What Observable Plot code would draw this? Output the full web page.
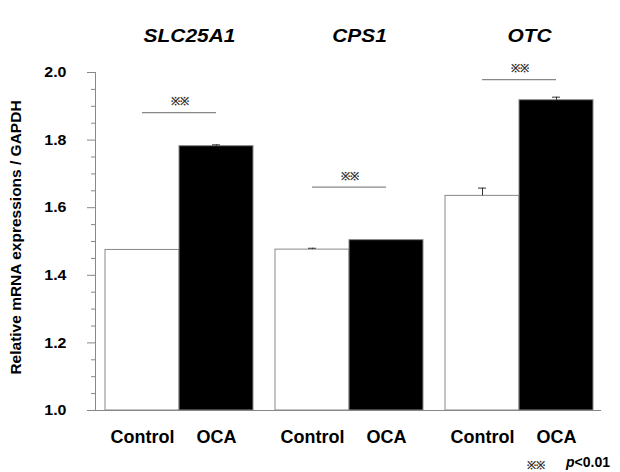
<!DOCTYPE html>
<html>
<head>
<meta charset="utf-8">
<script src="https://cdn.jsdelivr.net/npm/d3@7"></script>
<script src="https://cdn.jsdelivr.net/npm/@observablehq/plot@0.6"></script>
<style>
  html, body { margin: 0; padding: 0; background: #fff; }
  #wrap { position: relative; width: 620px; height: 472px; font-family: "Liberation Sans", Arial, sans-serif; }
  .note { position: absolute; top: 454px; font-size: 14px; font-weight: bold; white-space: nowrap; }
  #noteStar { left: 527px; color: #333; font-size: 11px; top: 457px; }
  #noteP { left: 566px; }
</style>
</head>
<body>
<div id="wrap"><div class="note" id="noteStar">※※</div><div class="note" id="noteP"><i>p</i>&lt;0.01</div></div>
<script>
const genes = ["SLC25A1", "CPS1", "OTC"];
const groups = ["Control", "OCA"];
const controlMeans = [1.475, 1.476, 1.635];
const controlErr = [0.0, 0.004, 0.023];
const ocaMeans = [1.782, 1.504, 1.918];
const ocaErr = [0.004, 0.0, 0.009];
const sigLevels = [1.881, 1.661, 1.979];
const sigLabels = ["※※", "※※", "※※"];
const yTicks = [1.0, 1.2, 1.4, 1.6, 1.8, 2.0];
const yMinorTicks = [1.05, 1.1, 1.15, 1.25, 1.3, 1.35, 1.45, 1.5, 1.55, 1.65, 1.7, 1.75, 1.85, 1.9, 1.95];
const yLabel = "Relative mRNA expressions / GAPDH";

const rows = [];
genes.forEach((g, i) => {
  rows.push({gene: g, group: "Control", value: controlMeans[i], err: controlErr[i]});
  rows.push({gene: g, group: "OCA", value: ocaMeans[i], err: ocaErr[i]});
});
const errRows = rows.filter(d => d.err > 0);
const sig = genes.map((g, i) => ({gene: g, level: sigLevels[i], label: sigLabels[i]}));

const font = "'Liberation Sans', Arial, sans-serif";
const fmt = d3.format(".1f");

const chart = Plot.plot({
  width: 620,
  height: 472,
  marginLeft: 105,
  marginRight: 27,
  marginTop: 72,
  marginBottom: 62,
  style: {fontFamily: font, background: "white", color: "black"},
  fx: {domain: genes, paddingInner: 22 / 170, paddingOuter: 0, axis: null},
  x: {domain: groups, padding: 0, axis: null},
  y: {domain: [1, 2], axis: null},
  marks: [
    Plot.ruleY([1], {y: d => d, stroke: "#888", insetLeft: -18, insetRight: -8}),
    Plot.barY(rows, {fx: "gene", x: "group", y1: d => 1, y2: "value",
      fill: d => d.group === "OCA" ? "black" : "white", stroke: "#888", strokeWidth: 1}),
    Plot.ruleX(errRows, {fx: "gene", x: "group", y1: "value", y2: d => d.value + d.err, stroke: "#333"}),
    Plot.tickY(errRows, {fx: "gene", x: "group", y: d => d.value + d.err, stroke: "#333", insetLeft: 33, insetRight: 33}),
    Plot.ruleY(sig, {fx: "gene", y: "level", stroke: "#888", strokeWidth: 1.2, insetLeft: 37, insetRight: 37}),
    Plot.text(sig, {fx: "gene", y: "level", text: "label", frameAnchor: "middle", dy: -11, fontSize: 11, fontWeight: "bold", fill: "#333"}),
    Plot.text(genes, {fx: d => d, text: d => d, frameAnchor: "top", lineAnchor: "middle", dx: 10, dy: -37, fontSize: 19, fontWeight: "bold", fontStyle: "italic"}),
    Plot.axisX({tickSize: 0, tickPadding: 20, fontSize: 18, fontWeight: "bold", label: null, stroke: "none"}),
    Plot.frame({anchor: "left", facetAnchor: "left", dx: -10, stroke: "#888"}),
    Plot.axisY({ticks: yMinorTicks, tickSize: 4, tickFormat: () => "", label: null, dx: -10, stroke: "#888"}),
    Plot.axisY({ticks: yTicks, tickSize: 8, tickPadding: 21, tickFormat: fmt, fontSize: 14.5, fontWeight: "bold", label: null, dx: -10, stroke: "#888"}),
    Plot.text([yLabel], {fx: () => "SLC25A1", text: d => d, frameAnchor: "left", textAnchor: "middle", lineAnchor: "middle", rotate: -90, dx: -89, dy: -4, fontSize: 15.5, fontWeight: "bold"})
  ]
});
document.getElementById("wrap").prepend(chart);

// widen the bold titles and tick numbers a little, as in the reference (scale about each text's anchor)
const k = 1.1;
const stretchSet = new Set([...genes, ...yTicks.map(fmt)]);
d3.select(chart).selectAll("text").each(function () {
  if (!stretchSet.has(this.textContent)) return;
  const t = this.getAttribute("transform") || "";
  const xa = this.getAttribute("x");
  if (xa !== null && !isNaN(+xa)) this.setAttribute("x", +xa / k);
  this.setAttribute("transform", `${t} scale(${k},1)`.trim());
});
</script>
</body>
</html>
